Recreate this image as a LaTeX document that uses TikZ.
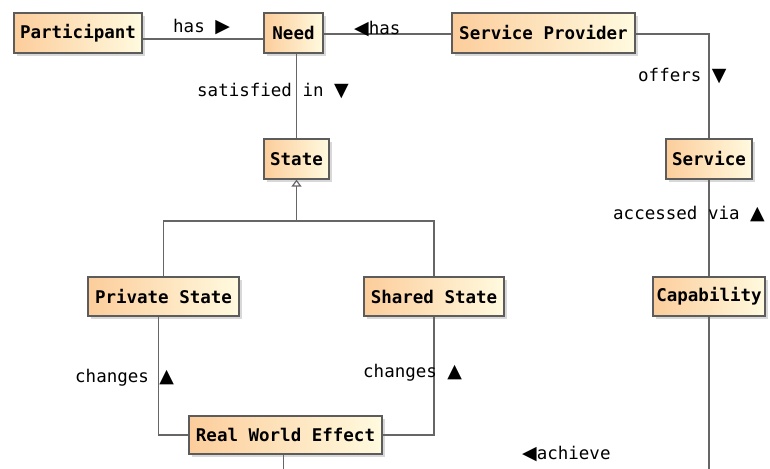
\documentclass[tikz,border=0pt]{standalone}
\usepackage{fontspec}
\setmonofont{DejaVu Sans Mono}
\newfontfamily\symfont{DejaVu Sans}
\usetikzlibrary{shadows,arrows.meta,calc}

\definecolor{boxleft}{HTML}{FCCD9B}
\definecolor{boxright}{HTML}{FFFADF}
\definecolor{boxline}{HTML}{5C5C5C}
\definecolor{linkline}{HTML}{666666}

\tikzset{
  cls/.style={draw=boxline, line width=1.2pt, left color=boxleft, right color=boxright,
    minimum height=40pt, inner sep=0pt,
    font=\ttfamily\bfseries\fontsize{17.5}{20}\selectfont,
    drop shadow={shadow xshift=3pt, shadow yshift=-3pt, fill=black!30}},
  lbl/.style={inner sep=0pt, anchor=base west, text=black,
    font=\ttfamily\fontsize{17.5}{20}\selectfont},
  link/.style={draw=linkline, line width=1.2pt},
  generalise/.style={link, -{Triangle[open, length=7pt, width=10pt]}},
}
\newcommand{\tri}[1]{{\symfont\fontsize{19}{20}\selectfont #1}}

\begin{document}
\begin{tikzpicture}[x=1pt, y=-1pt]
  \fill[white] (0,0) rectangle (770,468);
  \useasboundingbox (0,0) rectangle (770,468);

  % classes
  \node[cls, minimum width=128pt] (participant) at (78,33) {Participant};
  \node[cls, minimum width=59pt]  (need)        at (293.5,33) {Need};
  \node[cls, minimum width=183pt] (provider)    at (543.5,33) {Service Provider};
  \node[cls, minimum width=65pt]  (state)       at (296.5,159) {State};
  \node[cls, minimum width=86pt]  (service)     at (709,159) {Service};
  \node[cls, minimum width=151pt, minimum height=39pt] (private) at (163.5,296.5) {Private State};
  \node[cls, minimum width=140pt, minimum height=39pt] (shared)  at (434,296.5) {Shared State};
  \node[cls, minimum width=112pt, minimum height=39pt] (capability) at (709,296.5) {Capability};
  \node[cls, minimum width=193pt, minimum height=38pt] (effect) at (285.5,435) {Real World Effect};

  % helper coordinates
  \coordinate (hasrow) at (0,39);
  \coordinate (provrow) at (0,34);
  \coordinate (bus) at (0,221);
  \coordinate (floor) at (0,470);

  % associations
  \draw[link] (participant.east |- hasrow) -- (need.west |- hasrow);
  \draw[link] (need.east |- provrow) -- (provider.west |- provrow);
  \draw[link] (provider.east |- provrow) -| (service.north);
  \draw[link] (state.north |- need.south) -- (state.north);
  \draw[link] (service.south) -- (capability.north);
  \draw[link] ($(private.south)+(-5,0)$) |- (effect.west);
  \draw[link] (shared.south) |- (effect.east);
  \draw[link] ($(effect.south)+(-2,0)$) -- ($(effect.south |- floor)+(-2,0)$);
  \draw[link] (capability.south) -- (capability.south |- floor);

  % generalisation
  \draw[link] (private.north) |- (state.south |- bus) -| (shared.north);
  \draw[generalise] (state.south |- bus) -- (state.south);

  % association labels
  \node[lbl] (lhasA) at (173,33) {has \tri{▶}};
  \node[lbl] (lhasB) at (354,35) {\tri{◀}has};
  \node[lbl] (lsat)  at (197,97) {satisfied in \tri{▼}};
  \node[lbl] (loff)  at (638,82) {offers \tri{▼}};
  \node[lbl] (lacc)  at (613,219) {accessed via \tri{▲}};
  \node[lbl] (lchA)  at (75,382) {changes \tri{▲}};
  \node[lbl] (lchB)  at (363,377) {changes \tri{▲}};
  \node[lbl] (lach)  at (522,459) {\tri{◀}achieve};
\end{tikzpicture}
\end{document}
